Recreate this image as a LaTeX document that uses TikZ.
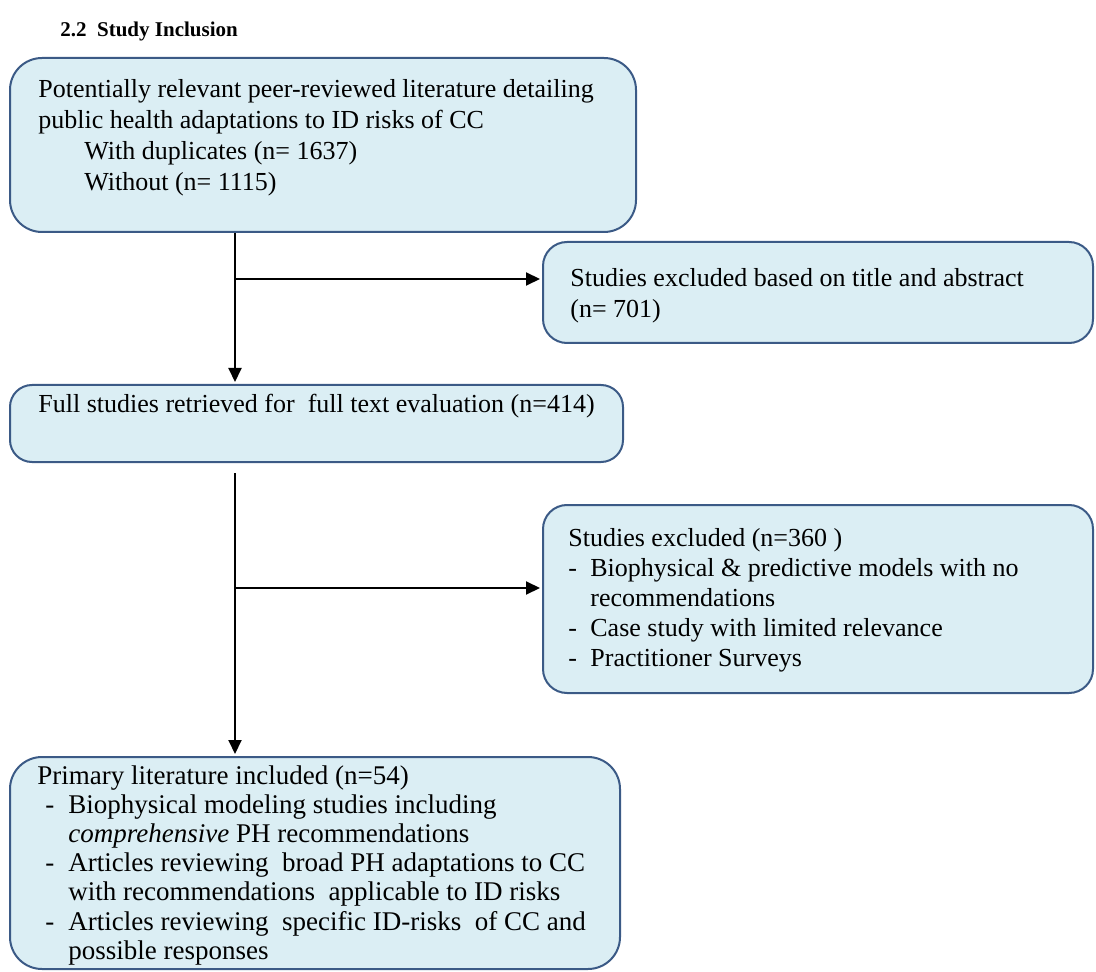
\documentclass[tikz,border=0pt]{standalone}
\usepackage{fontspec}
\setmainfont{Liberation Serif}
\usetikzlibrary{arrows.meta}
\definecolor{boxfill}{HTML}{DBEEF4}
\definecolor{boxline}{HTML}{3B5A86}
\newcommand\boxlines[2]{\vtop{\baselineskip=#1\relax\lineskiplimit=-20pt\lineskip=0pt #2}}
\newcommand\dashitem[2]{\hbox{\makebox[#1][l]{-}#2}}
\begin{document}
\begin{tikzpicture}[x=0.5pt,y=-0.5pt,
  box/.style={draw=boxline, fill=boxfill, line width=1pt, rounded corners=12pt, inner sep=0pt},
  txt/.style={anchor=base west, inner sep=0pt, font=\fontsize{13}{15.5}\selectfont},
  conn/.style={line width=1pt, draw=black},
  arr/.style={conn, -{Triangle[length=7pt,width=6.5pt]}, shorten >=1pt}]
\useasboundingbox (0,0) rectangle (1096,972);

\node[anchor=base west, inner sep=0pt, font=\bfseries\fontsize{10.5}{12}\selectfont] (title) at (60,37) {2.2\ \ Study Inclusion};

% boxes
\node[box, minimum width=313pt, minimum height=87pt, rounded corners=16pt] (b1) at (323,145) {};
\node[box, minimum width=275pt, minimum height=50.5pt] (b3) at (818,292.5) {};
\node[box, minimum width=306.5pt, minimum height=38.5pt, rounded corners=11pt] (b2) at (316.5,423.5) {};
\node[box, minimum width=275pt, minimum height=94pt] (b5) at (818,599) {};
\node[box, minimum width=305pt, minimum height=106pt, rounded corners=16pt] (b4) at (315,863) {};

% texts
\node[txt] (t1) at (38,98) {\boxlines{15.5pt}{%
  \hbox{Potentially relevant peer-reviewed literature detailing}
  \hbox{public health adaptations to ID risks of CC}
  \hbox{\kern23pt With duplicates (n= 1637)}
  \hbox{\kern23pt Without (n= 1115)}}};
\node[txt] (t3) at (570,287) {\boxlines{15.5pt}{%
  \hbox{Studies excluded based on title and abstract}
  \hbox{(n= 701)}}};
\node[txt] (t2) at (38,413) {Full studies retrieved for\ \ full text evaluation (n=414)};
\node[txt] (t5) at (568,546) {\boxlines{15pt}{%
  \hbox{Studies excluded (n=360 )}
  \dashitem{11pt}{Biophysical \& predictive models with no}
  \hbox{\kern11pt recommendations}
  \dashitem{11pt}{Case study with limited relevance}
  \dashitem{11pt}{Practitioner Surveys}}};
\node[txt, font=\fontsize{13.5}{15}\selectfont] (t4) at (37,784) {\boxlines{14.6pt}{%
  \hbox{Primary literature included (n=54)}
  \hbox{\kern4pt\makebox[11.5pt][l]{-}Biophysical modeling studies including}
  \hbox{\kern15.5pt\textit{comprehensive} PH recommendations}
  \hbox{\kern4pt\makebox[11.5pt][l]{-}Articles reviewing\ \ broad PH adaptations to CC}
  \hbox{\kern15.5pt with recommendations\ \ applicable to ID risks}
  \hbox{\kern4pt\makebox[11.5pt][l]{-}Articles reviewing\ \ specific ID-risks\ \ of CC and}
  \hbox{\kern15.5pt possible responses}}};

% connectors
\coordinate (j1) at (235,279);
\coordinate (j2) at (235,588);
\draw[arr] (b1.south -| j1) -- (b2.north -| j1);
\draw[arr] (j1) -- (b3.west |- j1);
\draw[arr, shorten <=5pt] (b2.south -| j2) -- (b4.north -| j2);
\draw[arr] (j2) -- (b5.west |- j2);
\end{tikzpicture}
\end{document}
